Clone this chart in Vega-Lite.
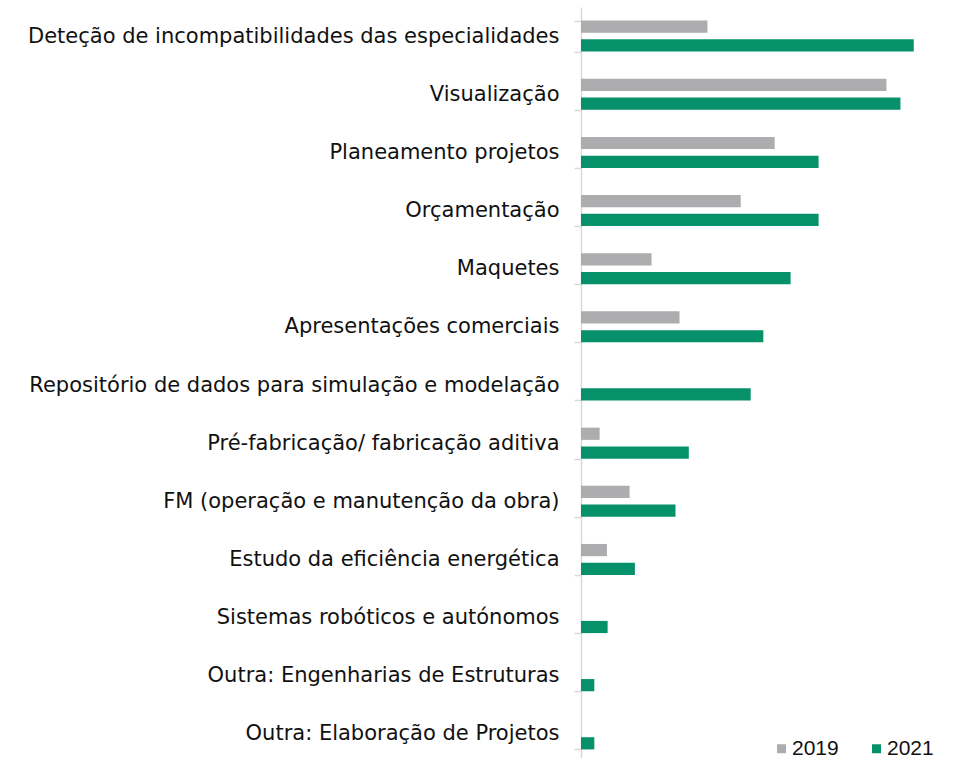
{
  "$schema": "https://vega.github.io/schema/vega-lite/v6.json",
  "autosize": {"type": "none"},
  "padding": {"left": 581, "top": 7, "right": 0, "bottom": 0},
  "width": 372,
  "height": 751,
  "background": "white",
  "config": {"view": {"stroke": null}},
  "data": {"values": [
    {"cat": "Deteção de incompatibilidades das especialidades", "ano": "2019", "v": 19.0},
    {"cat": "Deteção de incompatibilidades das especialidades", "ano": "2021", "v": 50.0},
    {"cat": "Visualização", "ano": "2019", "v": 45.9},
    {"cat": "Visualização", "ano": "2021", "v": 48.0},
    {"cat": "Planeamento projetos", "ano": "2019", "v": 29.1},
    {"cat": "Planeamento projetos", "ano": "2021", "v": 35.7},
    {"cat": "Orçamentação", "ano": "2019", "v": 24.0},
    {"cat": "Orçamentação", "ano": "2021", "v": 35.7},
    {"cat": "Maquetes", "ano": "2019", "v": 10.6},
    {"cat": "Maquetes", "ano": "2021", "v": 31.5},
    {"cat": "Apresentações comerciais", "ano": "2019", "v": 14.8},
    {"cat": "Apresentações comerciais", "ano": "2021", "v": 27.4},
    {"cat": "Repositório de dados para simulação e modelação", "ano": "2021", "v": 25.5},
    {"cat": "Pré-fabricação/ fabricação aditiva", "ano": "2019", "v": 2.8},
    {"cat": "Pré-fabricação/ fabricação aditiva", "ano": "2021", "v": 16.2},
    {"cat": "FM (operação e manutenção da obra)", "ano": "2019", "v": 7.3},
    {"cat": "FM (operação e manutenção da obra)", "ano": "2021", "v": 14.2},
    {"cat": "Estudo da eficiência energética", "ano": "2019", "v": 3.9},
    {"cat": "Estudo da eficiência energética", "ano": "2021", "v": 8.1},
    {"cat": "Sistemas robóticos e autónomos", "ano": "2021", "v": 4.0},
    {"cat": "Outra: Engenharias de Estruturas", "ano": "2021", "v": 2.0},
    {"cat": "Outra: Elaboração de Projetos", "ano": "2021", "v": 2.0}
  ]},
  "mark": {"type": "bar"},
  "encoding": {
    "y": {
      "field": "cat", "type": "nominal", "sort": null,
      "scale": {"range": [0, 756], "paddingInner": 0.467, "paddingOuter": 0.2335},
      "axis": {
        "title": null, "tickBand": "extent", "tickSize": 7, "tickColor": "#d9d9d9", "tickWidth": 1.5,
        "domainColor": "#d9d9d9", "domainWidth": 1.5, "labelPadding": 15,
        "labelFont": "DejaVu Sans", "labelFontSize": 21, "labelColor": "#111111", "labelLimit": 600
      }
    },
    "x": {
      "field": "v", "type": "quantitative",
      "scale": {"domain": [0, 55.9], "nice": false},
      "axis": null
    },
    "yOffset": {"field": "ano", "type": "nominal", "scale": {"paddingInner": 0.35, "paddingOuter": 0}},
    "color": {
      "field": "ano", "type": "nominal",
      "scale": {"domain": ["2019", "2021"], "range": ["#adadaf", "#07916a"]},
      "legend": {
        "title": null, "orient": "none", "legendX": 190, "legendY": 731, "direction": "horizontal",
        "symbolType": "square", "symbolSize": 81, "symbolStrokeWidth": 0, "labelOffset": 0,
        "columnPadding": 27, "labelFont": "Liberation Sans", "labelFontSize": 21, "labelColor": "#111111",
        "padding": 0
      }
    }
  }
}
